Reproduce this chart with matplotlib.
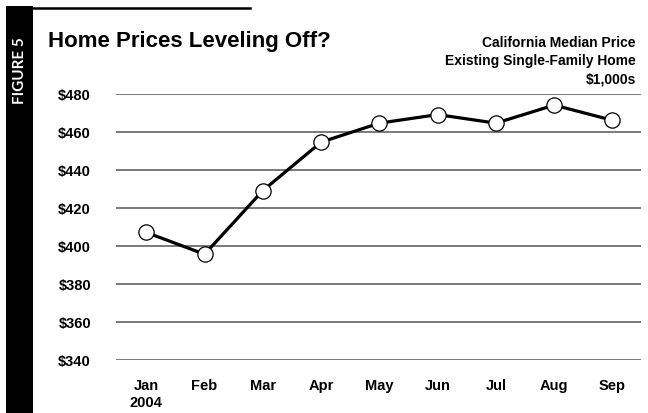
import matplotlib
matplotlib.use('Agg')
import matplotlib.pyplot as plt
from matplotlib.lines import Line2D
from matplotlib.patches import Rectangle

# data ($1,000s)
months = ['Jan\n2004', 'Feb', 'Mar', 'Apr', 'May', 'Jun', 'Jul', 'Aug', 'Sep']
prices = [407, 395.5, 429, 454.5, 464.5, 469, 464.5, 474, 466]
yticks = [340, 360, 380, 400, 420, 440, 460, 480]

plt.rcParams['font.family'] = ['Liberation Sans', 'DejaVu Sans']
plt.rcParams['font.weight'] = 'bold'

W, H = 648, 414
fig = plt.figure(figsize=(W / 100, H / 100), dpi=100)
fig.patch.set_facecolor('white')

# axes box in pixels: left 116, right 641, top 94.7, bottom 360.7
ax = fig.add_axes([116 / W, 1 - 360.7 / H, (641 - 116) / W, (360.7 - 94.7) / H])
x = list(range(len(months)))
ax.plot(x, prices, color='black', lw=2.3, marker='o', ms=11,
        mfc='white', mec='black', mew=0.9, clip_on=False, zorder=3)

ax.set_xlim(-0.52, 8.49)
ax.set_ylim(340, 480)
ax.set_yticks(yticks)
ax.set_yticklabels(['$%d' % v for v in yticks], fontsize=10.5, fontweight='bold')
ax.set_xticks(x)
ax.set_xticklabels(months, fontsize=10.5, fontweight='bold', va='top', linespacing=1.25)
for s in ax.spines.values():
    s.set_visible(False)
ax.tick_params(axis='both', length=0)
ax.tick_params(axis='y', pad=18)
ax.tick_params(axis='x', pad=13)
ax.grid(axis='y', color='#555555', lw=1.1)
ax.set_axisbelow(True)

# left black band with rotated label
fig.add_artist(Rectangle((6 / W, 0), 27 / W, 1 - 7 / H, transform=fig.transFigure,
                         facecolor='black', edgecolor='none'))
fig.text(19.5 / W, 1 - 71 / H, 'FIGURE 5', rotation=90, color='white',
         fontsize=11, fontweight='bold', family=['Lato', 'DejaVu Sans'],
         ha='center', va='center')
# rule across the top
fig.add_artist(Line2D([33 / W, 250 / W], [1 - 9 / H, 1 - 9 / H],
                      transform=fig.transFigure, color='black', lw=1.8))

fig.text(48 / W, 1 - 42 / H, 'Home Prices Leveling Off?', fontsize=16,
         fontweight='bold', ha='left', va='center')
fig.text(636 / W, 1 - 43 / H, 'California Median Price', fontsize=10,
         fontweight='bold', ha='right', va='center')
fig.text(636 / W, 1 - 61 / H, 'Existing Single-Family Home', fontsize=10,
         fontweight='bold', ha='right', va='center')
fig.text(636 / W, 1 - 79 / H, '$1,000s', fontsize=10,
         fontweight='bold', ha='right', va='center')

fig.savefig('out.png', dpi=100)
